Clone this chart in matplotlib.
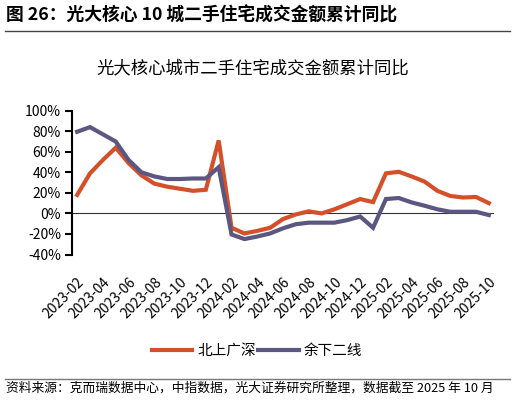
import matplotlib
matplotlib.use('Agg')
import matplotlib.pyplot as plt
from matplotlib.lines import Line2D

plt.rcParams['font.family'] = ['Noto Sans CJK SC', 'DejaVu Sans']

# 月份 2023-02 .. 2025-10
months = ['2023-02', '2023-03', '2023-04', '2023-05', '2023-06', '2023-07', '2023-08',
          '2023-09', '2023-10', '2023-11', '2023-12', '2024-01', '2024-02', '2024-03',
          '2024-04', '2024-05', '2024-06', '2024-07', '2024-08', '2024-09', '2024-10',
          '2024-11', '2024-12', '2025-01', '2025-02', '2025-03', '2025-04', '2025-05',
          '2025-06', '2025-07', '2025-08', '2025-09', '2025-10']
# 北上广深 (%)
tier1 = [18, 39, 52, 64, 49, 37, 29, 26, 24, 22, 23, 71,
         -14, -19.5, -17, -14, -5.5, -1, 2, 0, 4, 9, 14, 11,
         39, 40.5, 36, 31, 22, 17, 15.5, 16, 10]
# 余下二线 (%)
tier2 = [79.5, 84, 77, 70, 52, 40, 36, 33.5, 33.5, 34, 34, 45,
         -20.5, -25, -22.5, -19.5, -14.5, -10.5, -9, -9, -9, -6.5, -3, -14,
         14, 15, 10.7, 7.5, 4, 1.6, 1.6, 1.6, -1.6]
yticks = [-40, -20, 0, 20, 40, 60, 80, 100]

red = '#D4502A'
purple = '#5B5781'

fig = plt.figure(figsize=(5.16, 4.0), dpi=100)
ax = fig.add_axes([72/516, 1-254.5/400, 422/516, (254.5-110.7)/400])

x = list(range(len(months)))
ax.plot(x, tier1, color=red, lw=3, solid_joinstyle='miter', label='北上广深')
ax.plot(x, tier2, color=purple, lw=3, solid_joinstyle='miter', label='余下二线')
ax.axhline(0, color='#333333', lw=0.8, zorder=1)

ax.set_xlim(-0.4, 32.4)
ax.set_ylim(-40, 100)
ax.set_yticks(yticks)
ax.set_yticklabels([f'{v}%' for v in yticks], fontsize=10)
ax.set_xticks(x[::2])
ax.set_xticklabels(months[::2], rotation=45, ha='right', rotation_mode='anchor', fontsize=10)
ax.tick_params(axis='x', length=0, pad=15)
ax.tick_params(axis='y', length=5, width=1.5, pad=3)

for s in ['top', 'right', 'bottom']:
    ax.spines[s].set_visible(False)
ax.spines['left'].set_linewidth(1.5)

ax.legend(loc='center', bbox_to_anchor=(257/516, 1-351/400), bbox_transform=fig.transFigure,
          ncol=2, frameon=False, fontsize=10.5, handlelength=2.75, handletextpad=0.35,
          columnspacing=0.2)

fig.text(6/516, 1-15/400, '图 26：光大核心 10 城二手住宅成交金额累计同比',
         fontsize=12.8, fontweight='bold', va='center', ha='left')
fig.add_artist(Line2D([5/516, 510/516], [1-31/400, 1-31/400], color='#444444', lw=1))
fig.text(253/516, 1-68/400, '光大核心城市二手住宅成交金额累计同比',
         fontsize=12.5, va='center', ha='center')
fig.add_artist(Line2D([5/516, 510/516], [1-379/400, 1-379/400], color='#777777', lw=1))
fig.text(6/516, 1-388/400, '资料来源：克而瑞数据中心，中指数据，光大证券研究所整理，数据截至 2025 年 10 月',
         fontsize=9.2, va='center', ha='left')

fig.savefig('out.png', dpi=100)
